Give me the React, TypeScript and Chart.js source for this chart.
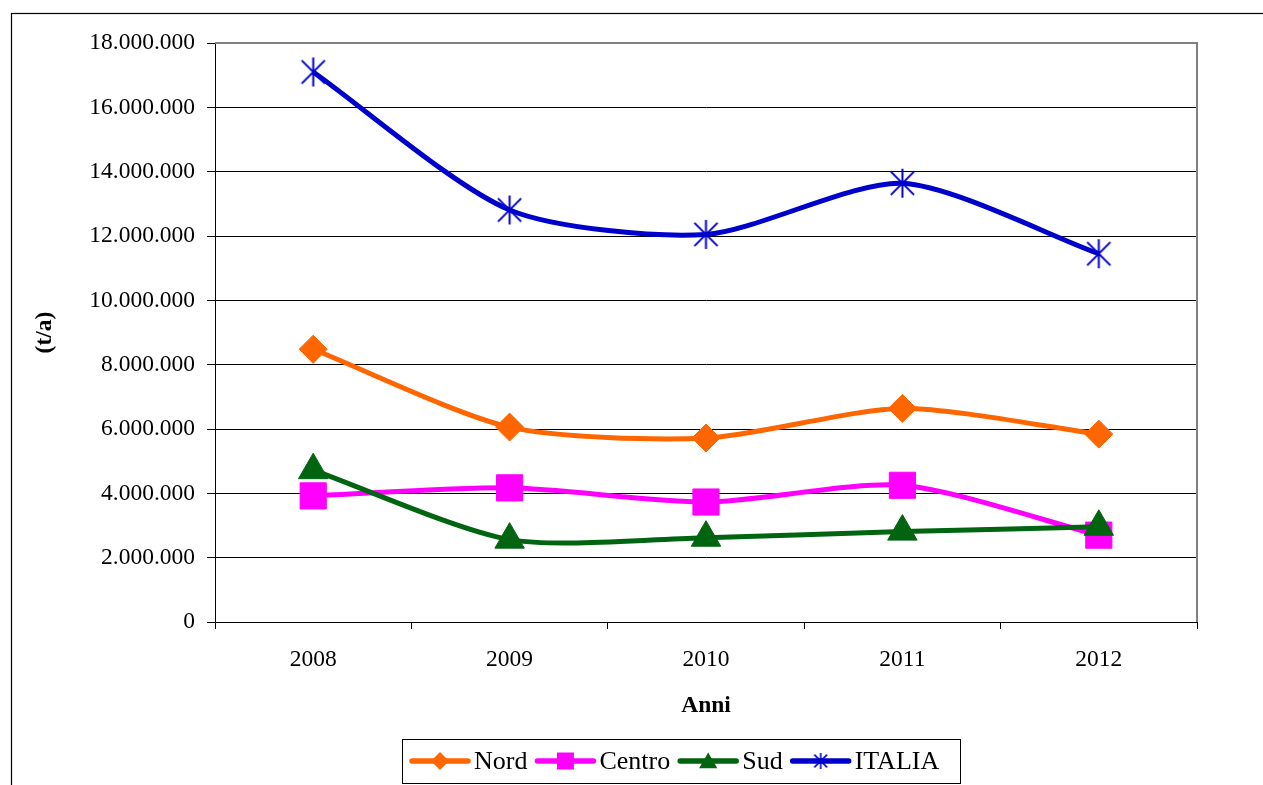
import React, { useEffect, useRef } from "react";
import { Chart, registerables } from "chart.js";

Chart.register(...registerables);

const years = ["2008", "2009", "2010", "2011", "2012"];
const nord = [8480000, 6060000, 5720000, 6640000, 5840000];
const centro = [3920000, 4170000, 3730000, 4250000, 2700000];
const sud = [4720000, 2560000, 2620000, 2810000, 2960000];
const italia = [17100000, 12810000, 12050000, 13640000, 11450000];
const yTicks = [0, 2000000, 4000000, 6000000, 8000000, 10000000, 12000000, 14000000, 16000000, 18000000];
const seriesNames = ["Nord", "Centro", "Sud", "ITALIA"];
const seriesColors = ["#FF6600", "#FF00FF", "#006411", "#0000CC"];

const FONT = '"Liberation Serif", "Times New Roman", serif';

const fmt = (v: number) => String(v).replace(/\B(?=(\d{3})+(?!\d))/g, ".");

function makeStar(size: number, color: string, lw: number): HTMLCanvasElement {
  const c = document.createElement("canvas");
  c.width = size;
  c.height = size;
  const g = c.getContext("2d")!;
  g.strokeStyle = color;
  g.lineWidth = lw;
  const h = size / 2;
  const r = h - 1;
  g.beginPath();
  g.moveTo(h, h - r);
  g.lineTo(h, h + r);
  const d = r * 0.8;
  g.moveTo(h - d, h - d);
  g.lineTo(h + d, h + d);
  g.moveTo(h + d, h - d);
  g.lineTo(h - d, h + d);
  g.stroke();
  return c;
}

function drawMarker(ctx: CanvasRenderingContext2D, style: string, x: number, y: number, r: number, color: string, star?: HTMLCanvasElement) {
  ctx.save();
  ctx.fillStyle = color;
  ctx.strokeStyle = color;
  ctx.beginPath();
  if (style === "rectRot") {
    ctx.moveTo(x, y - r);
    ctx.lineTo(x + r, y);
    ctx.lineTo(x, y + r);
    ctx.lineTo(x - r, y);
    ctx.closePath();
    ctx.fill();
  } else if (style === "rect") {
    ctx.rect(x - r, y - r, 2 * r, 2 * r);
    ctx.fill();
  } else if (style === "triangle") {
    ctx.moveTo(x, y - r);
    ctx.lineTo(x + 0.866 * r, y + 0.5 * r);
    ctx.lineTo(x - 0.866 * r, y + 0.5 * r);
    ctx.closePath();
    ctx.fill();
  } else if (star) {
    ctx.drawImage(star, x - star.width / 2, y - star.height / 2);
  }
  ctx.restore();
}

export default function App() {
  const ref = useRef<HTMLCanvasElement | null>(null);

  useEffect(() => {
    if (!ref.current) return;
    const bigStar = makeStar(31, seriesColors[3], 2);
    const smallStar = makeStar(18, seriesColors[3], 1.6);
    const styles: any[] = ["rectRot", "rect", "triangle", bigStar];
    const legendStyles = ["rectRot", "rect", "triangle", "star"];
    const radii = [14, 18.5, 17, 15];
    const legendR = [9, 8.5, 10.5, 0];
    const values = [nord, centro, sud, italia];
    const orders = [4, 3, 2, 1];

    const framePlugin = {
      id: "frame",
      beforeDraw(chart: any) {
        const ctx = chart.ctx;
        ctx.save();
        ctx.strokeStyle = "#000";
        ctx.lineWidth = 1.2;
        ctx.strokeRect(11.5, 13.5, 1400, 900);
        ctx.restore();
      },
      beforeDatasetsDraw(chart: any) {
        const { ctx, chartArea: a } = chart;
        ctx.save();
        ctx.strokeStyle = "#808080";
        ctx.lineWidth = 2;
        ctx.beginPath();
        ctx.moveTo(a.left, a.top);
        ctx.lineTo(a.right, a.top);
        ctx.lineTo(a.right, a.bottom);
        ctx.stroke();
        ctx.restore();
      },
      afterDraw(chart: any) {
        const ctx = chart.ctx as CanvasRenderingContext2D;
        ctx.save();
        ctx.strokeStyle = "#000";
        ctx.lineWidth = 1;
        ctx.strokeRect(402.5, 739.5, 558, 44);
        ctx.font = `26px ${FONT}`;
        ctx.textBaseline = "middle";
        ctx.textAlign = "left";
        const cy = 761;
        let x = 410;
        chart.data.datasets.forEach((ds: any, i: number) => {
          ctx.strokeStyle = ds.borderColor;
          ctx.lineWidth = 5.5;
          ctx.lineCap = "round";
          ctx.beginPath();
          ctx.moveTo(x + 2, cy);
          ctx.lineTo(x + 58, cy);
          ctx.stroke();
          drawMarker(ctx, legendStyles[i], x + 30, cy + (legendStyles[i] === "triangle" ? 2 : 0), legendR[i], ds.borderColor, smallStar);
          ctx.fillStyle = "#000";
          ctx.fillText(ds.label, x + 64, cy + 1);
          const w = ctx.measureText(ds.label).width;
          x = x + 64 + w + 8;
        });
        ctx.restore();
      },
    };

    const chart = new Chart(ref.current, {
      type: "line",
      data: {
        labels: years,
        datasets: seriesNames.map((name, i) => ({
          label: name,
          data: values[i],
          borderColor: seriesColors[i],
          backgroundColor: seriesColors[i],
          borderWidth: 5,
          tension: 0.25,
          pointStyle: styles[i],
          pointRadius: radii[i],
          pointBorderWidth: 1,
          pointBackgroundColor: seriesColors[i],
          pointBorderColor: seriesColors[i],
          order: orders[i],
          fill: false,
        })),
      },
      options: {
        animation: false,
        responsive: false,
        events: [],
        layout: { padding: { left: 0, top: 43, right: 66, bottom: 0 } },
        plugins: {
          legend: { display: false },
          tooltip: { enabled: false },
        },
        scales: {
          x: {
            offset: true,
            grid: {
              offset: true,
              drawOnChartArea: false,
              drawTicks: true,
              tickLength: 7,
              color: "#000",
              lineWidth: 1,
            },
            border: { display: true, color: "#000", width: 1 },
            ticks: {
              color: "#000",
              font: { family: FONT, size: 23.5 },
              padding: 17,
              maxRotation: 0,
            },
            title: {
              display: true,
              text: "Anni",
              color: "#000",
              font: { family: FONT, size: 23.5, weight: "bold" },
              padding: { top: 0, bottom: 65 },
            },
            afterFit(scale: any) {
              scale.height = 163;
            },
          },
          y: {
            min: 0,
            max: 18000000,
            afterBuildTicks(scale: any) {
              scale.ticks = yTicks.map((v) => ({ value: v }));
            },
            grid: {
              color: "#000",
              lineWidth: 1,
              drawTicks: true,
              tickLength: 8,
            },
            border: { display: true, color: "#000", width: 1 },
            ticks: {
              color: "#000",
              font: { family: FONT, size: 23.5 },
              padding: 12,
              callback: (v: any) => fmt(Number(v)),
            },
            title: {
              display: true,
              text: "(t/a)",
              color: "#000",
              font: { family: FONT, size: 23.5, weight: "bold" },
              padding: { top: 31, bottom: 0 },
            },
            afterFit(scale: any) {
              scale.width = 215;
            },
          },
        },
      },
      plugins: [framePlugin],
    } as any);

    return () => chart.destroy();
  }, []);

  return (
    <div style={{ position: "fixed", left: 0, top: 0, width: 1263, height: 785, overflow: "hidden", background: "#fff" }}>
      <canvas ref={ref} width={1263} height={785} style={{ display: "block" }} />
    </div>
  );
}
